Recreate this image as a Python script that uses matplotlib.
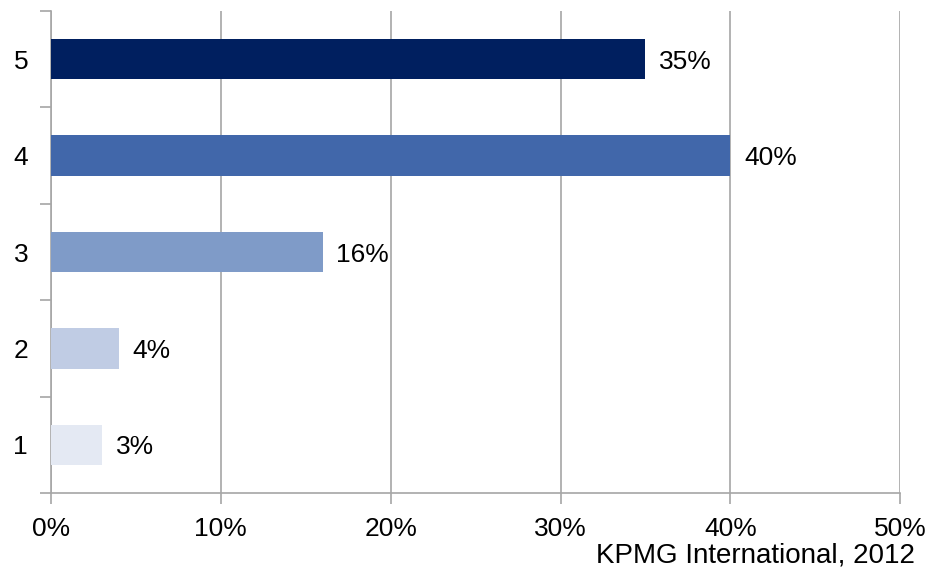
import matplotlib
matplotlib.use("Agg")
import matplotlib.pyplot as plt
from matplotlib.ticker import FuncFormatter

categories = ["1", "2", "3", "4", "5"]
values = [3, 4, 16, 40, 35]
colors = ["#E4E9F3", "#C0CCE4", "#7F9BC8", "#4167AA", "#001F5F"]
x_ticks = [0, 10, 20, 30, 40, 50]
source = "KPMG International, 2012"

plt.rcParams["font.family"] = ["Liberation Sans", "DejaVu Sans"]
GRAY = "#A6A6A6"
FS = 19

fig = plt.figure(figsize=(9.28, 5.71), dpi=100)
ax = fig.add_axes([0.055, 0.1366, 0.915, 0.8441])

ypos = range(len(categories))
ax.barh(ypos, values, height=0.42, color=colors, zorder=3)
for y, v in zip(ypos, values):
    ax.text(v + 0.8, y, f"{v}%", va="center_baseline", ha="left", fontsize=FS)

ax.set_xlim(0, 50)
ax.set_ylim(-0.5, len(categories) - 0.5)
ax.set_xticks(x_ticks)
ax.xaxis.set_major_formatter(FuncFormatter(lambda v, _: f"{v:.0f}%"))
ax.set_yticks(list(ypos))
ax.set_yticklabels(categories)
ax.set_yticks([i - 0.5 for i in range(len(categories) + 1)], minor=True)
ax.tick_params(axis="y", which="major", length=0, pad=16.5, labelsize=FS)
ax.tick_params(axis="y", which="minor", length=8, color=GRAY, width=1.2)
ax.tick_params(axis="x", length=8, color=GRAY, width=1.2, pad=9, labelsize=FS)

ax.grid(True, axis="x", color=GRAY, linewidth=1.2, zorder=0)
for s in ("top", "right"):
    ax.spines[s].set_visible(False)
for s in ("left", "bottom"):
    ax.spines[s].set_color(GRAY)
    ax.spines[s].set_linewidth(1.2)

fig.text(915 / 928, 1 - 552 / 571, source, ha="right", va="center_baseline",
         fontsize=20)

fig.savefig("out.png", dpi=100)
